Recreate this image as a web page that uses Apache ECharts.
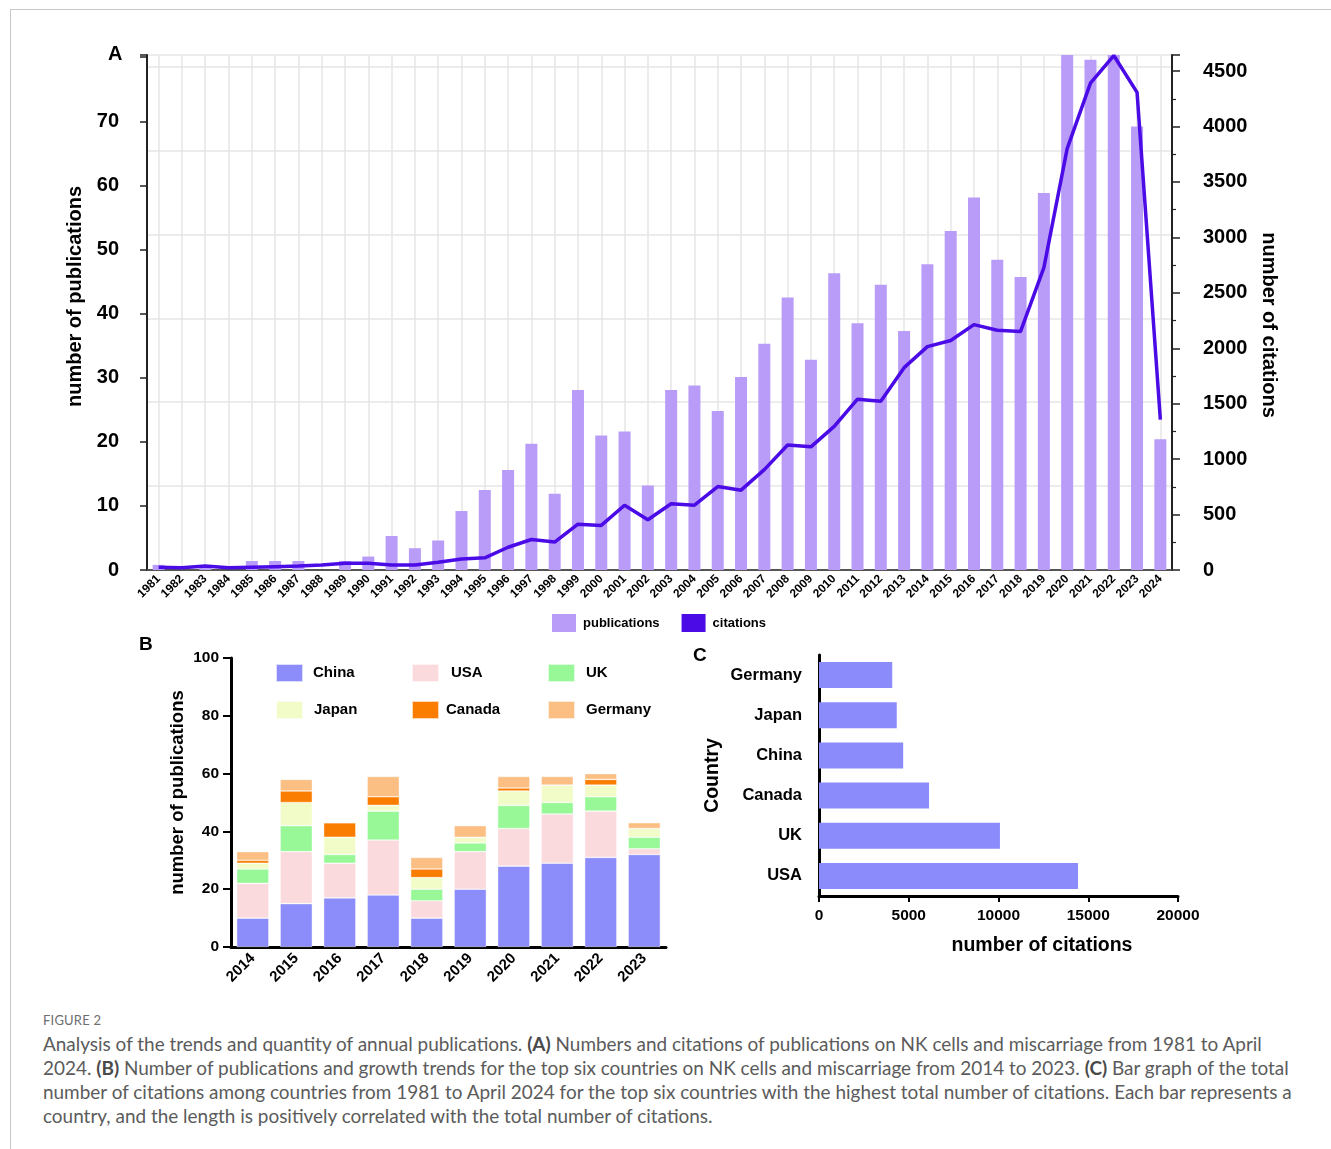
<!DOCTYPE html>
<html>
<head>
<meta charset="utf-8">
<title>Figure 2</title>
<script src="https://cdn.jsdelivr.net/npm/echarts@6/dist/echarts.min.js"></script>
<style>
  html, body { margin: 0; padding: 0; background: #fff; }
  #frame { position: absolute; left: 10px; top: 9px; right: 0; bottom: 0;
           border-top: 1px solid #c9c9c9; border-left: 1px solid #c9c9c9; }
  #chart { position: absolute; left: 0; top: 0; width: 1331px; height: 1000px; }
  #caption { position: absolute; left: 43px; top: 1008px; font-family: Lato, "Open Sans", "Noto Sans", sans-serif; color: #5b5b5b; }
  #caption .fig { font-size: 13px; letter-spacing: 0.2px; color: #6e6e6e; height: 24px; line-height: 24px; }
  #caption .ln { white-space: nowrap; height: 24px; line-height: 24px; }
  #caption b { font-weight: 700; color: #4a4a4a; }
</style>
</head>
<body>
<div id="frame"></div>
<div id="chart"></div>
<div id="caption">
  <div class="fig">FIGURE 2</div>
  <div class="ln">Analysis of the trends and quantity of annual publications. <b>(A)</b> Numbers and citations of publications on NK cells and miscarriage from 1981 to April</div>
  <div class="ln" id="fitLine">2024. <b>(B)</b> Number of publications and growth trends for the top six countries on NK cells and miscarriage from 2014 to 2023. <b>(C)</b> Bar graph of the total</div>
  <div class="ln">number of citations among countries from 1981 to April 2024 for the top six countries with the highest total number of citations. Each bar represents a</div>
  <div class="ln">country, and the length is positively correlated with the total number of citations.</div>
</div>
<script>
// ---- Panel A: yearly publications and citations ----
const years = ['1981','1982','1983','1984','1985','1986','1987','1988','1989','1990',
  '1991','1992','1993','1994','1995','1996','1997','1998','1999','2000',
  '2001','2002','2003','2004','2005','2006','2007','2008','2009','2010',
  '2011','2012','2013','2014','2015','2016','2017','2018','2019','2020',
  '2021','2022','2023','2024'];
const publications = [0.8, 0, 0.5, 0, 1.4, 1.4, 1.4, 0, 1.4, 2.1,
  5.3, 3.4, 4.6, 9.2, 12.5, 15.6, 19.7, 11.9, 28.1, 21.0,
  21.6, 13.2, 28.1, 28.8, 24.8, 30.1, 35.3, 42.5, 32.8, 46.3,
  38.5, 44.5, 37.3, 47.7, 52.9, 58.1, 48.4, 45.7, 58.8, 82,
  79.6, 82, 69.2, 20.4];
const citations = [25, 20, 35, 20, 25, 30, 35, 45, 60, 60,
  45, 45, 70, 100, 110, 205, 275, 252, 413, 402,
  584, 453, 597, 585, 753, 720, 905, 1128, 1111, 1295,
  1541, 1522, 1825, 2015, 2070, 2213, 2162, 2152, 2728, 3800,
  4392, 4640, 4308, 1356];

// ---- Panel B: publications of the top six countries, 2014-2023 ----
const yearsB = ['2014','2015','2016','2017','2018','2019','2020','2021','2022','2023'];
const countriesB = ['China', 'USA', 'UK', 'Japan', 'Canada', 'Germany'];
const pubChina   = [10, 15, 17, 18, 10, 20, 28, 29, 31, 32];
const pubUSA     = [12, 18, 12, 19,  6, 13, 13, 17, 16,  2];
const pubUK      = [ 5,  9,  3, 10,  4,  3,  8,  4,  5,  4];
const pubJapan   = [ 2,  8,  6,  2,  4,  2,  5,  6,  4,  3];
const pubCanada  = [ 1,  4,  5,  3,  3,  0,  1,  0,  2,  0];
const pubGermany = [ 3,  4,  0,  7,  4,  4,  4,  3,  2,  2];

// ---- Panel C: total citations by country ----
const countriesC = ['USA', 'UK', 'Canada', 'China', 'Japan', 'Germany'];
const citationsC = [14430, 10080, 6130, 4690, 4330, 4080];

const FONT = '"Liberation Sans", Arial, Helvetica, sans-serif';
const BLACK = '#000';
const colorsB = ['#8c8cfb', '#fadadd', '#98f898', '#f2fcc8', '#fa7d00', '#fbbf84'];
const dataB = [pubChina, pubUSA, pubUK, pubJapan, pubCanada, pubGermany];

// legend placement for panel B (two rows of three)
const legendSpotsB = [
  { left: 275, top: 663, pad: 5 }, { left: 411, top: 663, pad: 7 }, { left: 547, top: 663, pad: 6 },
  { left: 275, top: 700, pad: 6 }, { left: 411, top: 700, pad: 2 }, { left: 547, top: 700, pad: 6 }
];

const bold = (size) => ({ fontFamily: FONT, fontWeight: 'bold', fontSize: size, color: BLACK });

const option = {
  animation: false,
  backgroundColor: 'transparent',
  grid: [
    { left: 147, top: 55, width: 1025, height: 515, outerBoundsMode: 'none' },
    { left: 231, top: 658, width: 435, height: 289, outerBoundsMode: 'none' },
    { left: 819, top: 655, width: 359, height: 241, outerBoundsMode: 'none' }
  ],
  legend: [
    {
      data: [{ name: 'publications', icon: 'rect' }, { name: 'citations', icon: 'rect' }],
      left: 552, top: 614, padding: 0, itemWidth: 24, itemHeight: 18, itemGap: 22,
      textStyle: Object.assign(bold(13), { padding: [0, 0, 0, 2] })
    }
  ].concat(countriesB.map((c, i) => ({
    data: [{ name: c, icon: 'rect' }],
    left: legendSpotsB[i].left, top: legendSpotsB[i].top, padding: 0,
    itemWidth: 27, itemHeight: 18,
    textStyle: Object.assign(bold(15), { padding: [0, 0, 0, legendSpotsB[i].pad] })
  }))),
  xAxis: [
    {
      type: 'category', gridIndex: 0, data: years, boundaryGap: true,
      axisLine: { lineStyle: { color: '#222', width: 1.5 } },
      axisTick: { alignWithLabel: true, length: 6, lineStyle: { color: '#222', width: 1.2 } },
      axisLabel: Object.assign(bold(12), { rotate: 45, interval: 0, margin: 7 }),
      splitLine: { show: true, alignWithLabel: true, lineStyle: { color: '#e6e6e6', width: 1.5 } }
    },
    {
      type: 'category', gridIndex: 0, data: years, position: 'top',
      axisLine: { lineStyle: { color: '#555', width: 1.5 } },
      axisTick: { show: false }, axisLabel: { show: false }, splitLine: { show: false }
    },
    {
      type: 'category', gridIndex: 1, data: yearsB, boundaryGap: true,
      axisLine: { lineStyle: { color: BLACK, width: 3 } },
      axisTick: { alignWithLabel: true, length: 8, lineStyle: { color: BLACK, width: 2 } },
      axisLabel: Object.assign(bold(15), { rotate: 45, interval: 0, margin: 9 })
    },
    {
      type: 'value', gridIndex: 2, min: 0, max: 20000, interval: 5000,
      axisLine: { show: true, lineStyle: { color: BLACK, width: 3 } },
      axisTick: { show: true, length: 6, lineStyle: { color: BLACK, width: 2 } },
      axisLabel: Object.assign(bold(15.5), { margin: 12, formatter: (v) => String(v) }),
      splitLine: { show: false },
      name: 'number of citations', nameLocation: 'middle', nameGap: 40,
      nameTextStyle: Object.assign(bold(19.5), { padding: [0, 0, 0, 87] })
    }
  ],
  yAxis: [
    {
      type: 'value', gridIndex: 0, min: 0, max: 80.35, interval: 10, position: 'left',
      axisLine: { show: true, lineStyle: { color: '#222', width: 2 } },
      axisTick: { show: true, length: 7, lineStyle: { color: '#222', width: 1.5 } },
      axisLabel: Object.assign(bold(20), { margin: 28, formatter: (v) => (v > 75 ? '' : String(v)) }),
      splitLine: { show: false },
      name: 'number of publications', nameLocation: 'middle', nameGap: 61,
      nameTextStyle: Object.assign(bold(20), { padding: [0, 0, 0, 32] })
    },
    {
      type: 'value', gridIndex: 0, min: 0, max: 4645, interval: 500, position: 'right',
      axisLine: { show: true, lineStyle: { color: '#222', width: 2 } },
      axisTick: { show: true, length: 8, lineStyle: { color: '#222', width: 1.5 } },
      minorTick: { show: true, splitNumber: 2, length: 4, lineStyle: { color: '#222', width: 1.2 } },
      axisLabel: Object.assign(bold(20), { margin: 31, formatter: (v) => (v > 4500 ? '' : String(v)) }),
      splitLine: { show: false },
      name: 'number of citations', nameLocation: 'middle', nameRotate: -90, nameGap: 86,
      nameTextStyle: Object.assign(bold(20), { padding: [0, 0, 0, 25] })
    },
    {
      // light horizontal guide lines behind panel A
      type: 'value', gridIndex: 0, min: 0, max: 6.14, interval: 1, position: 'left',
      axisLine: { show: false }, axisTick: { show: false }, axisLabel: { show: false },
      splitLine: { show: true, lineStyle: { color: '#e6e6e6', width: 1.5 } }
    },
    {
      type: 'value', gridIndex: 1, min: 0, max: 100, interval: 20,
      axisLine: { show: true, lineStyle: { color: BLACK, width: 3 } },
      axisTick: { show: true, length: 8, lineStyle: { color: BLACK, width: 2 } },
      axisLabel: Object.assign(bold(15.5), { margin: 12 }),
      splitLine: { show: false },
      name: 'number of publications', nameLocation: 'middle', nameGap: 44,
      nameTextStyle: Object.assign(bold(18.5), { padding: [0, 0, 0, 20] })
    },
    {
      type: 'category', gridIndex: 2, data: countriesC, boundaryGap: true,
      axisLine: { lineStyle: { color: BLACK, width: 3 } },
      axisTick: { alignWithLabel: true, length: 6, lineStyle: { color: BLACK, width: 2 } },
      axisLabel: Object.assign(bold(16.5), { margin: 17 }),
      name: 'Country', nameLocation: 'middle', nameGap: 96,
      nameTextStyle: bold(19.5)
    }
  ],
  series: [
    {
      name: 'publications', type: 'bar', xAxisIndex: 0, yAxisIndex: 0,
      data: publications, barWidth: 12, itemStyle: { color: '#b99bf8' }, z: 2
    },
    {
      name: 'citations', type: 'line', xAxisIndex: 0, yAxisIndex: 1,
      data: citations, symbol: 'none', lineStyle: { color: '#4a0be6', width: 3.5 },
      itemStyle: { color: '#4a0be6' }, z: 3
    }
  ].concat(countriesB.map((c, i) => ({
    name: c, type: 'bar', stack: 'countries', xAxisIndex: 2, yAxisIndex: 3,
    data: dataB[i], barWidth: '74%',
    itemStyle: { color: colorsB[i], borderColor: 'rgba(255,255,255,0.7)', borderWidth: 0.6 }
  }))).concat([
    {
      name: 'total citations', type: 'bar', xAxisIndex: 3, yAxisIndex: 4,
      data: citationsC, barWidth: 26, itemStyle: { color: '#8b8bfb' }
    }
  ]),
  graphic: [
    { type: 'text', left: 108, top: 44, style: { text: 'A', font: 'bold 20px ' + FONT, fill: BLACK } },
    { type: 'text', left: 139, top: 635, style: { text: 'B', font: 'bold 19px ' + FONT, fill: BLACK } },
    { type: 'text', left: 693, top: 646, style: { text: 'C', font: 'bold 19px ' + FONT, fill: BLACK } }
  ]
};

const chart = echarts.init(document.getElementById('chart'), null, { renderer: 'canvas' });
chart.setOption(option);

// size the caption text so its lines span the same width as the figure text block
(function fitCaption() {
  const line = document.getElementById('fitLine');
  const target = 1249;
  let size = 17;
  document.querySelectorAll('#caption .ln').forEach(el => { el.style.fontSize = size + 'px'; });
  const w = line.getBoundingClientRect().width;
  if (w > 0) {
    size = Math.max(14, Math.min(20, size * target / w));
    document.querySelectorAll('#caption .ln').forEach(el => { el.style.fontSize = size.toFixed(2) + 'px'; });
  }
})();
</script>
</body>
</html>
